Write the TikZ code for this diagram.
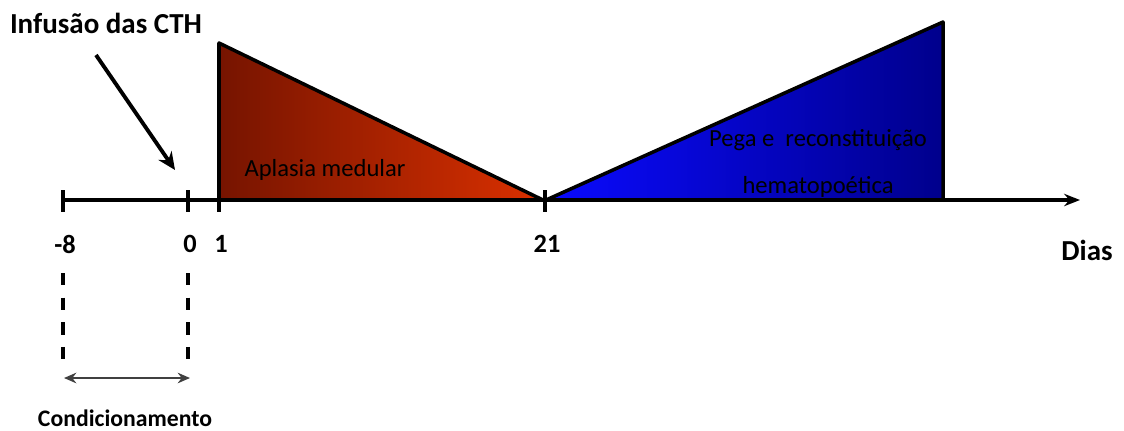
\documentclass[tikz,border=0pt]{standalone}
\usepackage{fontspec}
\setmainfont{Carlito}
\usetikzlibrary{arrows.meta}
\definecolor{aplasiaL}{HTML}{761400}
\definecolor{aplasiaR}{HTML}{DA3000}
\definecolor{pegaL}{HTML}{0A0AFF}
\definecolor{pegaR}{HTML}{00008C}
\tikzset{
  eixo/.style={line width=2.8pt},
  marca/.style={line width=2.2pt},
  rotulo/.style={font=\fontsize{15}{18}\selectfont\bfseries,inner sep=0pt},
  dentro/.style={font=\fontsize{14}{16}\selectfont,inner sep=0pt},
}
\begin{document}
\begin{tikzpicture}[x=0.02cm,y=-0.02cm]
    \useasboundingbox (0,0) rectangle (1124,430);
    \shade[left color=aplasiaL,right color=aplasiaR] (219,43)--(219,200)--(541,200)--cycle; %aplasia
    \shade[left color=pegaL,right color=pegaR] (548,200)--(943,22)--(943,200)--cycle; %pega
    \draw[line width=2pt,line join=round] (219,200)--(219,43)--(543,200); %borda vermelha
    \draw[line width=2pt,line join=round] (546,200)--(943,22)--(943,200); %borda azul
    \coordinate (ax0) at (62,200);
    \coordinate (ax1) at (1080,200);
    \draw[eixo,-{Stealth[length=9pt,width=7pt]}] (ax0)--(ax1); %eixo dos dias
    \foreach \x/\n/\t in {63/tm8/-8,188/t0/0,219/t1/1,545/t21/21}{
        \draw[marca] (\x,190)--(\x,212);
        \node[rotulo] (\n) at (\x+2,244) {\t};
    }
    \node[rotulo,font=\fontsize{16.5}{20}\selectfont\bfseries] (dias) at (1087,250) {Dias};
    \node[rotulo,font=\fontsize{16.5}{20}\selectfont\bfseries] (infusao) at (106,23) {Infusão das CTH};
    \coordinate (infA) at (96,55);
    \coordinate (infB) at (175,170);
    \draw[line width=2.2pt,-{Stealth[length=10pt,width=9pt]}] (infA)--(infB); %seta infusao
    \node[dentro] (aplasia) at (325,170) {Aplasia medular};
    \node[dentro] (pega) at (818,140) {Pega e\ \ reconstituição};
    \node[dentro] (hemato) at (818,187) {hematopoética};
    \coordinate (c0) at (63,273);
    \coordinate (c1) at (63,368);
    \coordinate (c2) at (188,273);
    \coordinate (c3) at (188,368);
    \draw[marca,dash pattern=on 7pt off 7pt] (c0)--(c1);
    \draw[marca,dash pattern=on 7pt off 7pt] (c2)--(c3);
    \coordinate (d0) at (64,378);
    \coordinate (d1) at (190,378);
    \draw[line width=1.5pt,draw=black!75,{Stealth[length=7pt,width=6pt]}-{Stealth[length=7pt,width=6pt]}] (d0)--(d1); %condicionamento
    \node[rotulo,font=\fontsize{13.5}{16}\selectfont\bfseries] (condic) at (125,418) {Condicionamento};
\end{tikzpicture}
\end{document}
